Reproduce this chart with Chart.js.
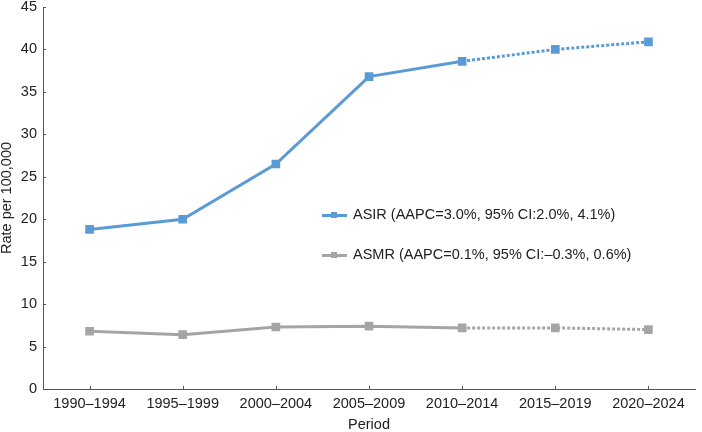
<!DOCTYPE html>
<html><head><meta charset="utf-8">
<script src="https://cdn.jsdelivr.net/npm/chart.js@4/dist/chart.umd.min.js"></script>
<style>
html,body{margin:0;padding:0;background:#fff;}
#wrap{position:relative;width:702px;height:432px;}
.leg{position:absolute;font-family:"Liberation Sans",Arial,sans-serif;font-size:14.5px;color:#222;white-space:nowrap;}
.lg-line{position:absolute;height:3px;width:25px;}
.lg-mk{position:absolute;width:6px;height:6px;}
</style></head>
<body><div id="wrap"><canvas id="c" width="702" height="432"></canvas>
<div class="lg-line" style="left:322px;top:214px;background:#5b9bd5"></div>
<div class="lg-mk" style="left:331px;top:212px;background:#5b9bd5"></div>
<div class="leg" style="left:353px;top:206px">ASIR (AAPC=3.0%, 95% CI:2.0%, 4.1%)</div>
<div class="lg-line" style="left:322px;top:254px;background:#a5a5a5"></div>
<div class="lg-mk" style="left:331px;top:252px;background:#a5a5a5"></div>
<div class="leg" style="left:353px;top:246px">ASMR (AAPC=0.1%, 95% CI:&#8211;0.3%, 0.6%)</div>
</div>
<script>
const periods = ["1990–1994","1995–1999","2000–2004","2005–2009","2010–2014","2015–2019","2020–2024"];
const asir = [18.8, 20.0, 26.5, 36.8, 38.6, 40.0, 40.9];
const asmr = [6.8, 6.4, 7.3, 7.4, 7.2, 7.2, 7.0];
const yTicks = [0,5,10,15,20,25,30,35,40,45];
const FONT = "'Liberation Sans', Arial, sans-serif";
const FS = 14.5;
const dashFrom = 4;
function ds(label, data, color){
  return {label, data, borderColor:color, backgroundColor:color, borderWidth:3,
    pointStyle:'rect', pointRadius:4, pointHoverRadius:4, tension:0,
    segment:{borderDash: ctx => ctx.p0DataIndex >= dashFrom ? [3,2] : undefined}};
}
const innerTicks = {
  id:'innerTicks',
  afterDraw(chart){
    const {ctx, chartArea:a, scales:{x,y}} = chart;
    ctx.save();
    ctx.strokeStyle = '#555'; ctx.lineWidth = 1;
    ctx.beginPath();
    periods.forEach((p,i)=>{ const px = Math.round(x.getPixelForValue(i))+0.5; ctx.moveTo(px,a.bottom); ctx.lineTo(px,a.bottom-3); });
    yTicks.forEach(v=>{ const py = Math.round(y.getPixelForValue(v))+0.5; ctx.moveTo(a.left,py); ctx.lineTo(a.left+3,py); });
    ctx.stroke();
    ctx.restore();
  }
};
new Chart(document.getElementById('c'), {
  type:'line',
  data:{labels:periods, datasets:[ds('ASIR',asir,'#5b9bd5'), ds('ASMR',asmr,'#a5a5a5')]},
  plugins:[innerTicks],
  options:{
    responsive:false, animation:false,
    layout:{padding:{left:0,right:2,top:0,bottom:0}},
    plugins:{legend:{display:false}, tooltip:{enabled:false}},
    scales:{
      x:{offset:true,
        afterFit: s => { s.height = 43; s.paddingLeft = 0; s.paddingRight = 0; },
        grid:{display:false, drawTicks:false},
        border:{color:'#555', width:1},
        ticks:{color:'#222', font:{family:FONT,size:FS}, maxRotation:0, padding:6},
        title:{display:true, text:'Period', color:'#222', font:{family:FONT,size:FS,lineHeight:1}, padding:{top:7,bottom:0}}},
      y:{min:0, max:45,
        afterFit: s => { s.width = 43; s.paddingTop = 7; s.paddingBottom = 0; },
        afterBuildTicks: a => { a.ticks = yTicks.map(v=>({value:v})); },
        grid:{display:false, drawTicks:false},
        border:{color:'#555', width:1},
        ticks:{color:'#222', font:{family:FONT,size:FS,lineHeight:1}, padding:6},
        title:{display:true, text:'Rate per 100,000', color:'#222', font:{family:FONT,size:FS,lineHeight:1}, padding:{top:0,bottom:7}}}
    }
  }
});
</script></body></html>
